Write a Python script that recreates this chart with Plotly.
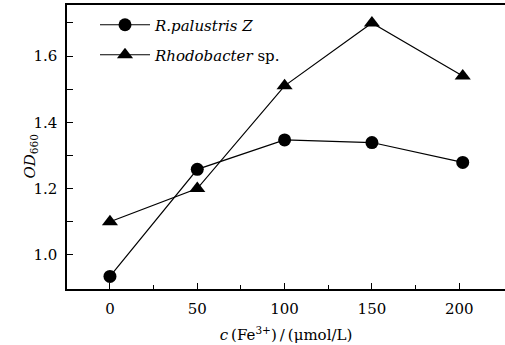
import plotly.graph_objects as go

conc = [0, 50, 100, 150, 202]
r_palustris = [0.935, 1.258, 1.347, 1.339, 1.279]
rhodobacter = [1.10, 1.20, 1.51, 1.70, 1.54]

FONT = "DejaVu Serif"
W, H = 505, 345
ML, MR, MT, MB = 67, 0, 5, 56

fig = go.Figure()
fig.add_trace(go.Scatter(
    x=conc, y=r_palustris, mode="lines+markers", name="<i>R.palustris Z</i>",
    line=dict(color="black", width=1.2),
    marker=dict(symbol="circle", size=13, color="black"),
    legend="legend"))
fig.add_trace(go.Scatter(
    x=conc, y=rhodobacter, mode="lines+markers", name="<i>Rhodobacter</i> sp.",
    line=dict(color="black", width=1.2),
    marker=dict(symbol="triangle-up", size=14, color="black"),
    legend="legend2"))

axis_common = dict(
    showline=True, linecolor="black", linewidth=1.5,
    ticks="inside", tickcolor="black", ticklen=6, tickwidth=1.2,
    showgrid=False, zeroline=False,
    tickfont=dict(family=FONT, size=15, color="black"),
)
fig.update_xaxes(
    **axis_common, range=[-24.6, 226.2], tickvals=[0, 50, 100, 150, 200],
    mirror=True, ticklabelstandoff=5,
    minor=dict(tickvals=[25, 75, 125, 175], ticks="inside", ticklen=4, tickcolor="black", tickwidth=1.2),
    title=dict(text="<i>c</i>\u2009(Fe<sup>3+</sup>)\u2009/\u2009(μmol/L)", font=dict(family=FONT, size=15, color="black"), standoff=13),
)
fig.update_yaxes(
    **axis_common, range=[0.897, 1.754], tickvals=[1.0, 1.2, 1.4, 1.6], ticktext=["1.0", "1.2", "1.4", "1.6"],
    minor=dict(tickvals=[1.1, 1.3, 1.5, 1.7], ticks="inside", ticklen=6, tickcolor="black", tickwidth=1.2),
    ticklabelstandoff=5,
)

leg_common = dict(font=dict(family=FONT, size=15, color="black"), bgcolor="rgba(0,0,0,0)",
                  xref="paper", yref="paper", xanchor="left", yanchor="middle", itemwidth=50)
pw = W - ML - MR
ph = H - MT - MB
fig.update_layout(
    font=dict(family=FONT),
    legend=dict(**leg_common, x=(95 - ML) / pw, y=1 - (25 - MT) / ph),
    legend2=dict(**leg_common, x=(95 - ML) / pw, y=1 - (55 - MT) / ph),
    annotations=[dict(text="<i>OD</i><sub>660</sub>", textangle=-90, xref="paper", yref="paper",
                      x=(18 - ML) / pw, y=1 - (157 - MT) / ph, showarrow=False,
                      font=dict(family=FONT, size=15, color="black"))],
    width=W, height=H, margin=dict(l=ML, r=MR, t=MT, b=MB),
    paper_bgcolor="white", plot_bgcolor="white", showlegend=True,
)
fig.write_html("out.html")
